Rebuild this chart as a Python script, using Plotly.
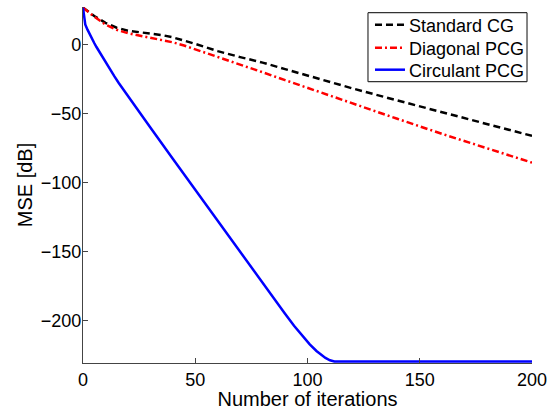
import plotly.graph_objects as go

# Standard CG
cg_iter = [0, 5, 10, 15, 20, 25, 30, 35, 40, 45, 50, 55, 60, 70, 80, 90, 100, 110, 120, 140, 160, 180, 200]
cg_mse = [26.5, 20.5, 15.5, 12, 9.8, 8.7, 7.7, 6.7, 5, 2.8, 0.3, -2.3, -5, -9.3, -13.3, -18, -22.8, -27.5, -32, -40.7, -49.3, -57.9, -66.4]

# Diagonal PCG
dpcg_iter = [0, 5, 10, 15, 20, 25, 30, 35, 40, 45, 50, 55, 60, 70, 80, 90, 100, 110, 120, 140, 160, 180, 200]
dpcg_mse = [26.5, 20, 14.3, 10.5, 8, 6.3, 4.8, 3.2, 1.4, -0.9, -3.6, -6.5, -9.3, -14.8, -20.3, -26, -31.7, -37.4, -43, -54, -65, -75.5, -85.8]

# Circulant PCG
cpcg_iter = [0, 1, 2, 3, 4, 5, 6, 8, 10, 12, 14, 16, 20, 25, 30, 40, 50, 60, 70, 80, 85, 90, 94, 98, 101, 104, 106, 108, 110, 112, 114, 200]
cpcg_mse = [26.5, 14.3, 10.6, 7.1, 3.9, 0.9, -2, -7.6, -13, -18.2, -23.3, -28.2, -37.6, -49, -60.3, -83, -105.6, -128.2, -150.9, -173.5, -184.2, -195.3, -204, -212, -217.5, -222.3, -225, -227.3, -229, -229.9, -230, -230]

series_names = ["Standard CG", "Diagonal PCG", "Circulant PCG"]
series_colors = ["#000000", "#ff0000", "#0000ff"]
series_dashes = ["7px,4px", "7px,3px,2px,3px", "solid"]

x_ticks = [0, 50, 100, 150, 200]
y_ticks = [-200, -150, -100, -50, 0]

fig = go.Figure()
data = [(cg_iter, cg_mse), (dpcg_iter, dpcg_mse), (cpcg_iter, cpcg_mse)]
for (xs, ys), name, col, dash in zip(data, series_names, series_colors, series_dashes):
    fig.add_trace(go.Scatter(x=xs, y=ys, mode="lines", name=name, showlegend=False,
                             line=dict(color=col, width=2.5, dash=dash)))

font_family = "Liberation Sans, Arial, Helvetica, sans-serif"

# Legend drawn as box + line samples + text (paper coordinates)
leg_x0, leg_x1, leg_y0, leg_y1 = 0.6347, 0.9889, 0.7902, 0.984
row_y = [0.9503, 0.8857, 0.8239]
box_line = dict(color="#333333", width=1.2)
shapes = [
    dict(type="rect", xref="paper", yref="paper", x0=leg_x0, x1=leg_x1, y0=leg_y0, y1=leg_y1,
         line=dict(width=0), fillcolor="white", layer="above"),
    dict(type="line", xref="paper", yref="paper", x0=leg_x0, x1=leg_x1, y0=leg_y0, y1=leg_y0, line=box_line, layer="above"),
    dict(type="line", xref="paper", yref="paper", x0=leg_x0, x1=leg_x1, y0=leg_y1, y1=leg_y1, line=box_line, layer="above"),
    dict(type="line", xref="paper", yref="paper", x0=leg_x0, x1=leg_x0, y0=leg_y0, y1=leg_y1, line=box_line, layer="above"),
    dict(type="line", xref="paper", yref="paper", x0=leg_x1, x1=leg_x1, y0=leg_y0, y1=leg_y1, line=box_line, layer="above"),
]
annotations = []
for name, col, dash, yy in zip(series_names, series_colors, series_dashes, row_y):
    shapes.append(dict(type="line", xref="paper", yref="paper", x0=0.6503, x1=0.7171, y0=yy, y1=yy,
                       line=dict(color=col, width=2.5, dash=dash), layer="above"))
    annotations.append(dict(xref="paper", yref="paper", x=0.7217, y=yy, xanchor="left", yanchor="middle",
                            text=name, showarrow=False, font=dict(size=18, color="#000000"), yshift=-1))

fig.update_layout(
    width=555, height=410,
    margin=dict(l=83, r=23, t=7, b=47, autoexpand=False),
    paper_bgcolor="white", plot_bgcolor="white",
    font=dict(family=font_family, size=18, color="#000000"),
    showlegend=False,
    shapes=shapes, annotations=annotations,
    xaxis=dict(range=[0, 200], tickvals=x_ticks, ticks="inside", ticklen=5, automargin=False,
               tickcolor="#444444", showline=True, linecolor="#444444", linewidth=1.2,
               showgrid=False, zeroline=False, mirror=False,
               title=dict(text="Number of iterations", font=dict(size=20), standoff=8)),
    yaxis=dict(range=[-231, 27], tickvals=y_ticks, ticks="inside", ticklen=5, automargin=False,
               ticklabelstandoff=-3,
               tickcolor="#444444", showline=True, linecolor="#444444", linewidth=1.2,
               showgrid=False, zeroline=False, mirror=False,
               title=dict(text="MSE [dB]", font=dict(size=20), standoff=2)),
)

fig.write_html("out.html", config={"displayModeBar": False},
               post_script="document.body.style.margin='0';document.body.style.overflow='hidden';")
